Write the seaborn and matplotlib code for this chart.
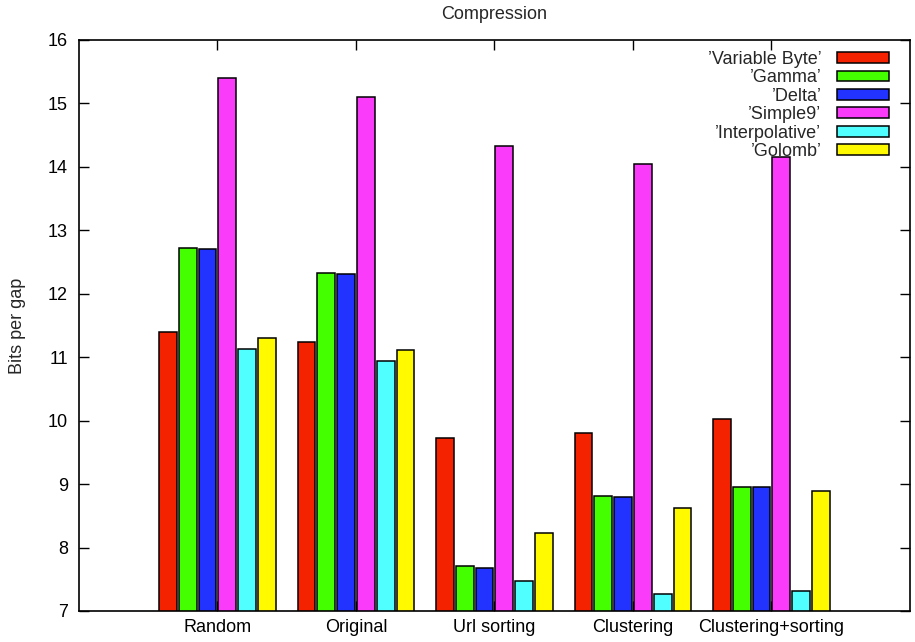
import matplotlib
matplotlib.use("Agg")
import matplotlib.pyplot as plt
import pandas as pd
import seaborn as sns

# Average bits per gap for each compression method and document ordering
categories = ["Random", "Original", "Url sorting", "Clustering", "Clustering+sorting"]
methods = ["\u2019Variable Byte\u2019", "\u2019Gamma\u2019", "\u2019Delta\u2019",
           "\u2019Simple9\u2019", "\u2019Interpolative\u2019", "\u2019Golomb\u2019"]
variable_byte = [11.40, 11.24, 9.72, 9.81, 10.03]
gamma = [12.72, 12.33, 7.71, 8.81, 8.96]
delta = [12.71, 12.31, 7.68, 8.79, 8.95]
simple9 = [15.40, 15.10, 14.33, 14.04, 14.15]
interpolative = [11.13, 10.94, 7.47, 7.26, 7.31]
golomb = [11.31, 11.12, 8.23, 8.62, 8.89]
y_ticks = [7, 8, 9, 10, 11, 12, 13, 14, 15, 16]

colors = ["#f52200", "#44ff00", "#2233ff", "#fa3cfa", "#50ffff", "#fffa00"]

series = [variable_byte, gamma, delta, simple9, interpolative, golomb]
rows = []
for method, values in zip(methods, series):
    for cat, v in zip(categories, values):
        rows.append({"ordering": cat, "method": method, "bits": v})
df = pd.DataFrame(rows)

sns.set_theme(style="white")
plt.rcParams["font.family"] = ["Liberation Sans", "DejaVu Sans"]

FS = 13

fig = plt.figure(figsize=(9.15, 6.42), dpi=100)
ax = fig.add_axes([0.0863, 0.0483, 0.9082, 0.8894])

sns.barplot(data=df, x="ordering", y="bits", hue="method",
            order=categories, hue_order=methods, palette=colors,
            width=6 / 7, gap=0.1, edgecolor="black", linewidth=1.1,
            saturation=1, errorbar=None, ax=ax)

ax.set_xlim(-1, 5)
ax.set_ylim(7, 16)
ax.set_yticks(y_ticks)
ax.set_xlabel("")
ax.set_ylabel("Bits per gap", fontsize=FS, labelpad=16)
ax.set_title("Compression", fontsize=FS, pad=15)

for side in ["left", "right", "top", "bottom"]:
    ax.spines[side].set_visible(True)
    ax.spines[side].set_color("black")
    ax.spines[side].set_linewidth(1.2)

ax.tick_params(axis="both", which="both", direction="in", length=7, width=1,
               color="black", labelsize=FS, labelcolor="black",
               top=True, right=True, bottom=True, left=True, pad=8)
ax.tick_params(axis="x", pad=6)

handles, labels = ax.get_legend_handles_labels()
ax.legend(handles, labels, loc="upper right", frameon=False, markerfirst=False,
          handlelength=2.9, handleheight=0.55, handletextpad=0.85,
          labelspacing=0.08, fontsize=FS, borderaxespad=0.3,
          bbox_to_anchor=(0.99, 1.003))

fig.savefig("out.png", dpi=100)
